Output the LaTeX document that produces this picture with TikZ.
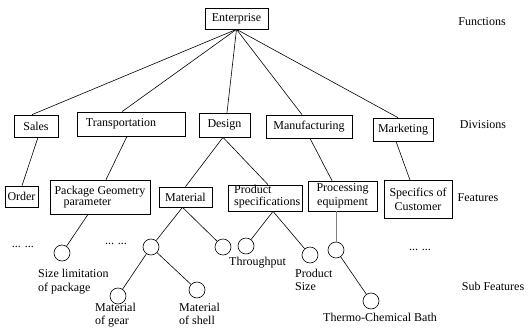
\documentclass[tikz,border=0pt]{standalone}
\usepackage{fontspec}
\setmainfont{Liberation Serif}
\begin{document}
\begin{tikzpicture}[x=1pt,y=-1pt,
  every node/.style={font=\fontsize{12}{13}\selectfont},
  box/.style={draw, line width=0.7pt, inner sep=0pt, align=center},
  leaf/.style={draw, circle, line width=0.6pt, minimum size=16pt, inner sep=0pt},
  conn/.style={line width=0.6pt},
  lvl/.style={anchor=center},
  ltxt/.style={anchor=west, align=left, inner sep=0pt}]
\useasboundingbox (0,0) rectangle (528,327);
% boxes
\node[box, minimum width=63pt, minimum height=21pt] (ent) at (236.5,18.5) {Enterprise};
\node[box, minimum width=44pt, minimum height=22pt] (sales) at (36,126) {Sales};
\node[box, minimum width=108pt, minimum height=24pt] (trans) at (131,124) {Transportation\hspace{20pt}};
\node[box, minimum width=51pt, minimum height=24pt] (design) at (224.5,125) {Design};
\node[box, minimum width=86pt, minimum height=23pt] (manu) at (309,126.5) {Manufacturing};
\node[box, minimum width=60pt, minimum height=23pt] (mark) at (403,129.5) {Marketing};
\node[box, minimum width=33pt, minimum height=21pt] (order) at (21.5,196.5) {Order};
\node[box, minimum width=100pt, minimum height=34pt, align=left, font=\fontsize{12}{11.5}\selectfont] (pkg) at (100,197) {Package Geometry\\\hspace*{9pt}parameter};
\node[box, minimum width=53pt, minimum height=20pt] (mat) at (185.5,197) {Material};
\node[box, minimum width=74pt, minimum height=26pt] (prod) at (265,198) {};
\node[ltxt, font=\fontsize{12}{12}\selectfont] (prodt) at (234,197) {Product\\specifications};
\node[box, minimum width=69pt, minimum height=30pt, font=\fontsize{12}{14}\selectfont] (proc) at (342.5,196) {Processing\\equipment};
\node[box, minimum width=68pt, minimum height=38pt, font=\fontsize{12}{14}\selectfont] (spec) at (418,199.5) {Specifics of\\Customer};
% level labels
\node[lvl] (lf) at (482,22) {Functions};
\node[lvl] (ld) at (483,125) {Divisions};
\node[lvl] (lfe) at (478,198) {Features};
\node[lvl] (ls) at (493,286) {Sub Features};
% circles
\node[leaf] (c1) at (62,253) {};
\node[leaf] (c2) at (151,247) {};
\node[leaf] (c3) at (223,247) {};
\node[leaf] (c4) at (246,246) {};
\node[leaf] (c5) at (310,255) {};
\node[leaf] (c6) at (336,250) {};
\node[leaf] (c7) at (118,296) {};
\node[leaf] (c8) at (197,290) {};
\node[leaf] (c9) at (371,301) {};
% sub feature texts
\node[ltxt, font=\fontsize{12}{14}\selectfont] (t1) at (38,282) {Size limitation\\of package};
\node[ltxt, font=\fontsize{12}{13}\selectfont] (t7) at (95,315) {Material\\of gear};
\node[ltxt, font=\fontsize{12}{13}\selectfont] (t8) at (179,314) {Material\\of shell};
\node[ltxt] (t4) at (229,263) {Throughput};
\node[ltxt, font=\fontsize{12}{13}\selectfont] (t5) at (295,279.5) {Product\\Size};
\node[lvl] (t9) at (380,317) {Thermo-Chemical Bath};
\node[lvl] (d1) at (23,247) {... ...};
\node[lvl] (d2) at (116,244) {... ...};
\node[lvl] (d3) at (420,250) {... ...};
% connectors
\draw[conn] (ent.south) -- ([xshift=-4pt]sales.north);
\draw[conn] (ent.south) -- ([xshift=-9pt]trans.north);
\draw[conn] (ent.south) -- ([xshift=2.5pt]design.north);
\draw[conn] (ent.south) -- ([xshift=-7pt]manu.north);
\draw[conn] (ent.south) -- ([xshift=-5pt]mark.north);
\draw[conn] ([xshift=2pt]sales.south) -- ([xshift=0.5pt]order.north);
\draw[conn] ([xshift=-4pt]trans.south) -- ([xshift=6pt]pkg.north);
\draw[conn] ([xshift=-1.5pt]design.south) -- (mat.north);
\draw[conn] ([xshift=-1.5pt]design.south) -- ([xshift=3pt]prod.north);
\draw[conn] ([xshift=1pt]manu.south) -- ([xshift=-10.5pt]proc.north);
\draw[conn] ([xshift=-7pt]mark.south) -- ([xshift=-8pt]spec.north);
\draw[conn] ([xshift=-12pt]pkg.south) -- (c1);
\draw[conn] ([xshift=-3pt]mat.south) -- (c2);
\draw[conn] ([xshift=-3pt]mat.south) -- (c3);
\draw[conn] ([xshift=8pt]prod.south) -- (c4);
\draw[conn] ([xshift=8pt]prod.south) -- (c5);
\draw[line width=1pt, gray] (c6.north |- proc.south) -- (c6);
\draw[conn] (c2) -- (c7);
\draw[conn] (c2) -- (c8);
\draw[conn] (c6) -- (c9);
\end{tikzpicture}
\end{document}
